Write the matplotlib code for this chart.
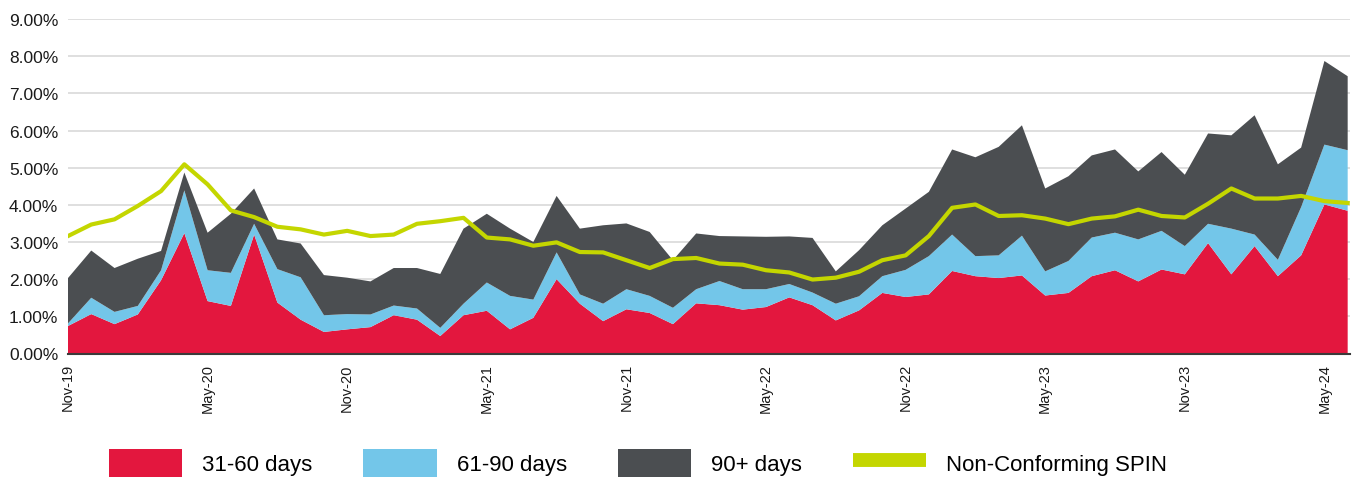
import numpy as np
import pandas as pd
import matplotlib
matplotlib.use('Agg')
import matplotlib.pyplot as plt
from matplotlib.patches import Patch
from matplotlib.lines import Line2D

plt.rcParams['font.family'] = ['Liberation Sans', 'DejaVu Sans']

# monthly, Nov-19 .. Jun-24
months = pd.date_range('2019-11-01', periods=56, freq='MS')

# delinquency buckets (%), stacked
d31_60 = [0.74, 1.06, 0.79, 1.05, 1.97, 3.24, 1.41, 1.28, 3.20, 1.37,
          0.91, 0.58, 0.65, 0.71, 1.03, 0.91, 0.47, 1.03, 1.15, 0.65,
          0.96, 2.00, 1.34, 0.87, 1.19, 1.09, 0.79, 1.35, 1.30, 1.18,
          1.25, 1.51, 1.30, 0.89, 1.16, 1.63, 1.52, 1.59, 2.22, 2.08,
          2.03, 2.10, 1.56, 1.63, 2.08, 2.24, 1.94, 2.26, 2.13, 2.97,
          2.13, 2.89, 2.08, 2.64, 4.01, 3.84]
d61_90 = [0.07, 0.44, 0.33, 0.23, 0.27, 1.15, 0.83, 0.89, 0.29, 0.90,
          1.14, 0.45, 0.41, 0.34, 0.26, 0.30, 0.22, 0.31, 0.76, 0.90,
          0.49, 0.72, 0.25, 0.47, 0.54, 0.46, 0.44, 0.38, 0.65, 0.55,
          0.48, 0.36, 0.34, 0.45, 0.38, 0.45, 0.73, 1.03, 0.98, 0.54,
          0.61, 1.07, 0.65, 0.86, 1.04, 1.01, 1.13, 1.04, 0.76, 0.52,
          1.23, 0.31, 0.44, 1.30, 1.61, 1.63]
d90_plus = [1.22, 1.27, 1.18, 1.27, 0.52, 0.48, 1.01, 1.59, 0.95, 0.80,
            0.91, 1.08, 0.98, 0.89, 1.01, 1.09, 1.45, 2.02, 1.85, 1.81,
            1.55, 1.52, 1.77, 2.11, 1.77, 1.72, 1.28, 1.50, 1.21, 1.42,
            1.41, 1.28, 1.47, 0.87, 1.24, 1.37, 1.65, 1.73, 2.29, 2.66,
            2.92, 2.97, 2.23, 2.28, 2.21, 2.24, 1.83, 2.12, 1.92, 2.43,
            2.51, 3.21, 2.57, 1.60, 2.25, 1.99]
# Non-Conforming SPIN total (%)
spin = [3.16, 3.47, 3.61, 3.97, 4.37, 5.09, 4.55, 3.85, 3.67, 3.41,
        3.34, 3.20, 3.30, 3.16, 3.20, 3.49, 3.56, 3.65, 3.12, 3.07,
        2.90, 2.99, 2.73, 2.72, 2.51, 2.30, 2.54, 2.57, 2.42, 2.39,
        2.24, 2.18, 1.99, 2.04, 2.20, 2.51, 2.64, 3.16, 3.92, 4.01,
        3.70, 3.72, 3.63, 3.48, 3.63, 3.69, 3.87, 3.70, 3.66, 4.03,
        4.44, 4.17, 4.17, 4.24, 4.10, 4.05]

labels = ['31-60 days', '61-90 days', '90+ days', 'Non-Conforming SPIN']
red, blue, grey, green = '#e3173e', '#73c6e9', '#4b4e51', '#c4d600'

W, H = 1352, 481
fig = plt.figure(figsize=(W / 100, H / 100), dpi=100)
ax = fig.add_axes([68 / W, 1 - 354.5 / H, (1350 - 68) / W, (354.5 - 20) / H])

x = np.arange(len(months))
ax.stackplot(x, d31_60, d61_90, d90_plus, colors=[red, blue, grey],
             linewidth=0, zorder=2)
ax.plot(x, spin, color=green, lw=3, zorder=3)

ax.set_xlim(0, 55.1)
ax.set_ylim(0, 9)
ax.set_yticks(range(10))
ax.set_yticklabels([f'{v:.2f}%' for v in range(10)])
ticks = x[::6]
ax.set_xticks(ticks)
ax.set_xticklabels([months[i].strftime('%b-%y') for i in ticks],
                   rotation=90, va='top', ha='center')
ax.tick_params(axis='both', length=0)
ax.tick_params(axis='y', labelsize=12.5, pad=7, colors='#1a1a1a')
ax.tick_params(axis='x', labelsize=10.5, pad=7, colors='#1a1a1a')

ax.yaxis.grid(True, color='#d9d9d9', lw=1.2)
ax.set_axisbelow(True)
for s in ['left', 'right', 'top']:
    ax.spines[s].set_visible(False)
ax.spines['bottom'].set_color('#3a3a3a')
ax.spines['bottom'].set_linewidth(1.5)
ax.spines['bottom'].set_zorder(4)

handles = [Patch(facecolor=red), Patch(facecolor=blue), Patch(facecolor=grey),
           Line2D([0], [0], color=green, lw=10, solid_capstyle='butt')]
fig.legend(handles, labels, loc='center', bbox_to_anchor=(638 / W, 1 - 464 / H),
           ncol=4, frameon=False, fontsize=16, handlelength=3.3,
           handleheight=1.5, handletextpad=0.9, columnspacing=2.3)

fig.savefig('out.png', dpi=100)
